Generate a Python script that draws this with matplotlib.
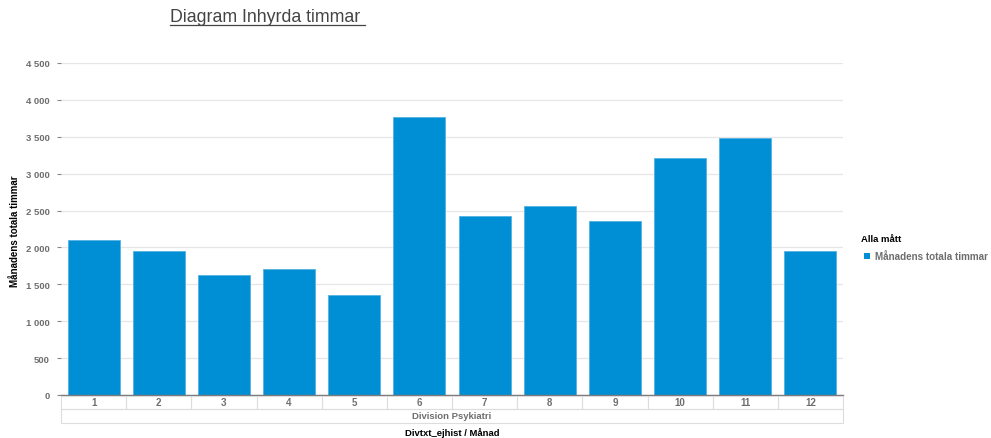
import matplotlib.pyplot as plt
from matplotlib.ticker import FuncFormatter
from matplotlib.patches import Rectangle

# Hours per month
months = ['1', '2', '3', '4', '5', '6', '7', '8', '9', '10', '11', '12']
hours = [2105, 1955, 1630, 1712, 1355, 3770, 2423, 2558, 2352, 3207, 3490, 1955]
division = 'Division Psykiatri'
yticks = [0, 500, 1000, 1500, 2000, 2500, 3000, 3500, 4000, 4500]

bar_color = '#008fd5'
grid_color = '#e6e6e6'
label_gray = '#6e6e6e'

plt.rcParams['font.family'] = ['Liberation Sans', 'DejaVu Sans']

W, H = 991, 439
fig = plt.figure(figsize=(W / 100, H / 100), dpi=100)
x0, x1, y0, y1 = 61, 843, 396, 64
ax = fig.add_axes([x0 / W, 1 - y0 / H, (x1 - x0) / W, (y0 - y1) / H])

pos = list(range(len(months)))
ax.bar(pos, hours, width=0.8, color=bar_color, edgecolor='#55b2e2', linewidth=0.6, zorder=3)
ax.set_xlim(-0.5, len(months) - 0.5)
ax.set_ylim(0, 4500)

ax.set_yticks(yticks)
ax.yaxis.set_major_formatter(FuncFormatter(lambda v, p: f'{int(v):,}'.replace(',', ' ')))
ax.grid(axis='y', color=grid_color, linewidth=0.9, zorder=0)
ax.tick_params(axis='y', length=3, width=0.8, color='#888888', pad=5,
               labelsize=6.8, labelcolor=label_gray)
for t in ax.get_yticklabels():
    t.set_fontweight('bold')
ax.set_xticks([])

for s in ['top', 'right', 'left']:
    ax.spines[s].set_visible(False)
ax.spines['bottom'].set_color('#777777')
ax.spines['bottom'].set_linewidth(1.0)
ax.spines['bottom'].set_zorder(4)


def fy(py):
    return 1 - py / H


# y axis title
fig.text(15 / W, fy(231), 'Månadens totala timmar', rotation=90, ha='center', va='center',
         fontsize=7, fontweight='bold', color='black')

# category table below the x axis
row1_top, row1_bot, row2_bot = 397, 410, 424
tcol = '#dddddd'
cw = (x1 - x0) / len(months)
for i, m in enumerate(months):
    fig.add_artist(Rectangle(((x0 + i * cw) / W, fy(row1_bot)), cw / W, (row1_bot - row1_top) / H,
                             transform=fig.transFigure, fill=False, edgecolor=tcol, linewidth=0.8))
    fig.text((x0 + (i + 0.5) * cw) / W, fy(403.5), m,
             ha='center', va='center', fontsize=7, fontweight='bold', color=label_gray)
fig.add_artist(Rectangle((x0 / W, fy(row2_bot)), (x1 - x0) / W, (row2_bot - row1_bot) / H,
                         transform=fig.transFigure, fill=False, edgecolor=tcol, linewidth=0.8))
fig.text((x0 + x1) / 2 / W, fy(417), division, ha='center', va='center',
         fontsize=6.8, fontweight='bold', color=label_gray)
fig.text((x0 + x1) / 2 / W, fy(433), 'Divtxt_ejhist / Månad', ha='center', va='center',
         fontsize=6.8, fontweight='bold', color='black')

# title
title = fig.text(170 / W, fy(17), 'Diagram Inhyrda timmar ', ha='left', va='center',
                 fontsize=12.8, color='#444444')
fig.canvas.draw()
bb = title.get_window_extent()
fig.add_artist(plt.Line2D([bb.x0 / W, bb.x1 / W], [fy(26), fy(26)],
                          transform=fig.transFigure, color='#444444', linewidth=0.9))

# legend
fig.text(861 / W, fy(240), 'Alla mått', ha='left', va='center',
         fontsize=6.8, fontweight='bold', color='black')
fig.add_artist(Rectangle((864 / W, fy(260)), 6 / W, 6 / H, transform=fig.transFigure,
                         facecolor=bar_color, edgecolor='none'))
fig.text(875 / W, fy(257), 'Månadens totala timmar', ha='left', va='center',
         fontsize=7.1, fontweight='bold', color=label_gray)

fig.savefig('out.png', dpi=100)
